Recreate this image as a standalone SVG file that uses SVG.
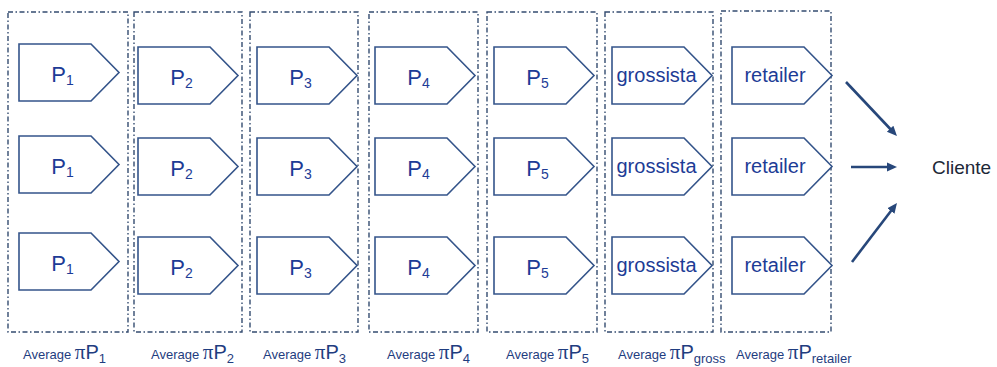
<svg xmlns="http://www.w3.org/2000/svg" xmlns:xlink="http://www.w3.org/1999/xlink" width="997" height="367" viewBox="0 0 997 367">
  <style>
    .col { fill: none; stroke: #344c70; stroke-width: 1.4; stroke-dasharray: 5 2.5 1.5 2.5; }
    .pent { fill: #ffffff; stroke: #34548a; stroke-width: 1.6; stroke-linejoin: miter; }
    .lbl { font-family: "Liberation Sans", Arial, sans-serif; fill: #1d3c96; text-anchor: middle; }
    .p { font-size: 22px; }
    .ps { font-size: 14px; }
    .word { font-size: 20px; }
    .avg { font-family: "Liberation Sans", Arial, sans-serif; fill: #1f3d80; font-size: 13px; }
    .pi { font-family: "Liberation Serif", "Times New Roman", serif; font-size: 21px; }
    .bigp { font-size: 20px; }
    .subp { font-size: 13px; }
    .arrow { stroke: #27477a; stroke-width: 2.6; fill: none; }
    .client { font-family: "Liberation Sans", Arial, sans-serif; font-size: 19px; fill: #1c2838; }
  </style>
  <defs>
    <path id="pent" class="pent" d="M0 0 H72 L100 28.5 L72 57 H0 Z"/>
    <marker id="head" markerUnits="userSpaceOnUse" markerWidth="12" markerHeight="12" viewBox="0 -6 12 12" refX="1" refY="0" orient="auto">
      <path d="M0 -4.5 L10 0 L0 4.5 Z" fill="#27477a"/>
    </marker>
  </defs>

  <rect width="997" height="367" fill="#ffffff"/>

  <!-- stage columns (dash-dot frames) -->
  <g id="columns">
    <rect id="col-p1" class="col" x="8" y="12" width="120" height="320"/>
    <rect id="col-p2" class="col" x="134" y="12" width="108" height="320"/>
    <rect id="col-p3" class="col" x="250" y="12" width="108" height="320"/>
    <rect id="col-p4" class="col" x="369" y="12" width="109" height="320"/>
    <rect id="col-p5" class="col" x="487" y="12" width="110" height="320"/>
    <rect id="col-gross" class="col" x="605" y="12" width="108" height="320"/>
    <rect id="col-retail" class="col" x="721" y="11" width="110" height="321"/>
  </g>

  <!-- column 1 -->
  <g id="p1-a"><use href="#pent" x="19" y="44"/><text class="lbl" x="62.5" y="81.5"><tspan class="p">P</tspan><tspan class="ps" dy="3">1</tspan></text></g>
  <g id="p1-b"><use href="#pent" x="19" y="136"/><text class="lbl" x="62.5" y="173.5"><tspan class="p">P</tspan><tspan class="ps" dy="3">1</tspan></text></g>
  <g id="p1-c"><use href="#pent" x="19" y="233"/><text class="lbl" x="62.5" y="270.5"><tspan class="p">P</tspan><tspan class="ps" dy="3">1</tspan></text></g>

  <!-- column 2 -->
  <g id="p2-a"><use href="#pent" x="138" y="47"/><text class="lbl" x="181.5" y="84.5"><tspan class="p">P</tspan><tspan class="ps" dy="3">2</tspan></text></g>
  <g id="p2-b"><use href="#pent" x="138" y="138"/><text class="lbl" x="181.5" y="175.5"><tspan class="p">P</tspan><tspan class="ps" dy="3">2</tspan></text></g>
  <g id="p2-c"><use href="#pent" x="138" y="237"/><text class="lbl" x="181.5" y="274.5"><tspan class="p">P</tspan><tspan class="ps" dy="3">2</tspan></text></g>

  <!-- column 3 -->
  <g id="p3-a"><use href="#pent" x="257" y="47"/><text class="lbl" x="300.5" y="84.5"><tspan class="p">P</tspan><tspan class="ps" dy="3">3</tspan></text></g>
  <g id="p3-b"><use href="#pent" x="257" y="138"/><text class="lbl" x="300.5" y="175.5"><tspan class="p">P</tspan><tspan class="ps" dy="3">3</tspan></text></g>
  <g id="p3-c"><use href="#pent" x="257" y="237"/><text class="lbl" x="300.5" y="274.5"><tspan class="p">P</tspan><tspan class="ps" dy="3">3</tspan></text></g>

  <!-- column 4 -->
  <g id="p4-a"><use href="#pent" x="375" y="47"/><text class="lbl" x="418.5" y="84.5"><tspan class="p">P</tspan><tspan class="ps" dy="3">4</tspan></text></g>
  <g id="p4-b"><use href="#pent" x="375" y="138"/><text class="lbl" x="418.5" y="175.5"><tspan class="p">P</tspan><tspan class="ps" dy="3">4</tspan></text></g>
  <g id="p4-c"><use href="#pent" x="375" y="237"/><text class="lbl" x="418.5" y="274.5"><tspan class="p">P</tspan><tspan class="ps" dy="3">4</tspan></text></g>

  <!-- column 5 -->
  <g id="p5-a"><use href="#pent" x="494" y="47"/><text class="lbl" x="537.5" y="84.5"><tspan class="p">P</tspan><tspan class="ps" dy="3">5</tspan></text></g>
  <g id="p5-b"><use href="#pent" x="494" y="138"/><text class="lbl" x="537.5" y="175.5"><tspan class="p">P</tspan><tspan class="ps" dy="3">5</tspan></text></g>
  <g id="p5-c"><use href="#pent" x="494" y="237"/><text class="lbl" x="537.5" y="274.5"><tspan class="p">P</tspan><tspan class="ps" dy="3">5</tspan></text></g>

  <!-- wholesalers -->
  <g id="gross-a"><use href="#pent" x="612" y="47"/><text class="lbl word" x="656.5" y="82">grossista</text></g>
  <g id="gross-b"><use href="#pent" x="612" y="138"/><text class="lbl word" x="656.5" y="173">grossista</text></g>
  <g id="gross-c"><use href="#pent" x="612" y="237"/><text class="lbl word" x="656.5" y="272">grossista</text></g>

  <!-- retailers -->
  <g id="retail-a"><use href="#pent" x="732" y="47"/><text class="lbl word" x="775" y="82">retailer</text></g>
  <g id="retail-b"><use href="#pent" x="732" y="138"/><text class="lbl word" x="775" y="173">retailer</text></g>
  <g id="retail-c"><use href="#pent" x="732" y="237"/><text class="lbl word" x="775" y="272">retailer</text></g>

  <!-- end customer -->
  <g id="cliente"><text class="client" x="932" y="174">Cliente</text></g>

  <!-- connectors -->
  <g id="connectors">
    <line class="arrow" x1="846" y1="82" x2="890.8" y2="129.5" marker-end="url(#head)"/>
    <line class="arrow" x1="851" y1="167" x2="888" y2="167" marker-end="url(#head)"/>
    <line class="arrow" x1="852" y1="262" x2="891.5" y2="210.2" marker-end="url(#head)"/>
  </g>

  <!-- average margin per stage -->
  <g id="margins" fill="#1f3d80">
    <text class="avg" x="23" y="359">Average <tspan class="pi">π</tspan><tspan class="bigp">P</tspan><tspan class="subp" dy="3.5">1</tspan></text>
    <text class="avg" x="151" y="359">Average <tspan class="pi">π</tspan><tspan class="bigp">P</tspan><tspan class="subp" dy="3.5">2</tspan></text>
    <text class="avg" x="263" y="359">Average <tspan class="pi">π</tspan><tspan class="bigp">P</tspan><tspan class="subp" dy="3.5">3</tspan></text>
    <text class="avg" x="387" y="359">Average <tspan class="pi">π</tspan><tspan class="bigp">P</tspan><tspan class="subp" dy="3.5">4</tspan></text>
    <text class="avg" x="506" y="359">Average <tspan class="pi">π</tspan><tspan class="bigp">P</tspan><tspan class="subp" dy="3.5">5</tspan></text>
    <text class="avg" x="618" y="359">Average <tspan class="pi">π</tspan><tspan class="bigp">P</tspan><tspan class="subp" dy="3.5">gross</tspan></text>
    <text class="avg" x="736" y="359">Average <tspan class="pi">π</tspan><tspan class="bigp">P</tspan><tspan class="subp" dy="3.5">retailer</tspan></text>
  </g>
</svg>
